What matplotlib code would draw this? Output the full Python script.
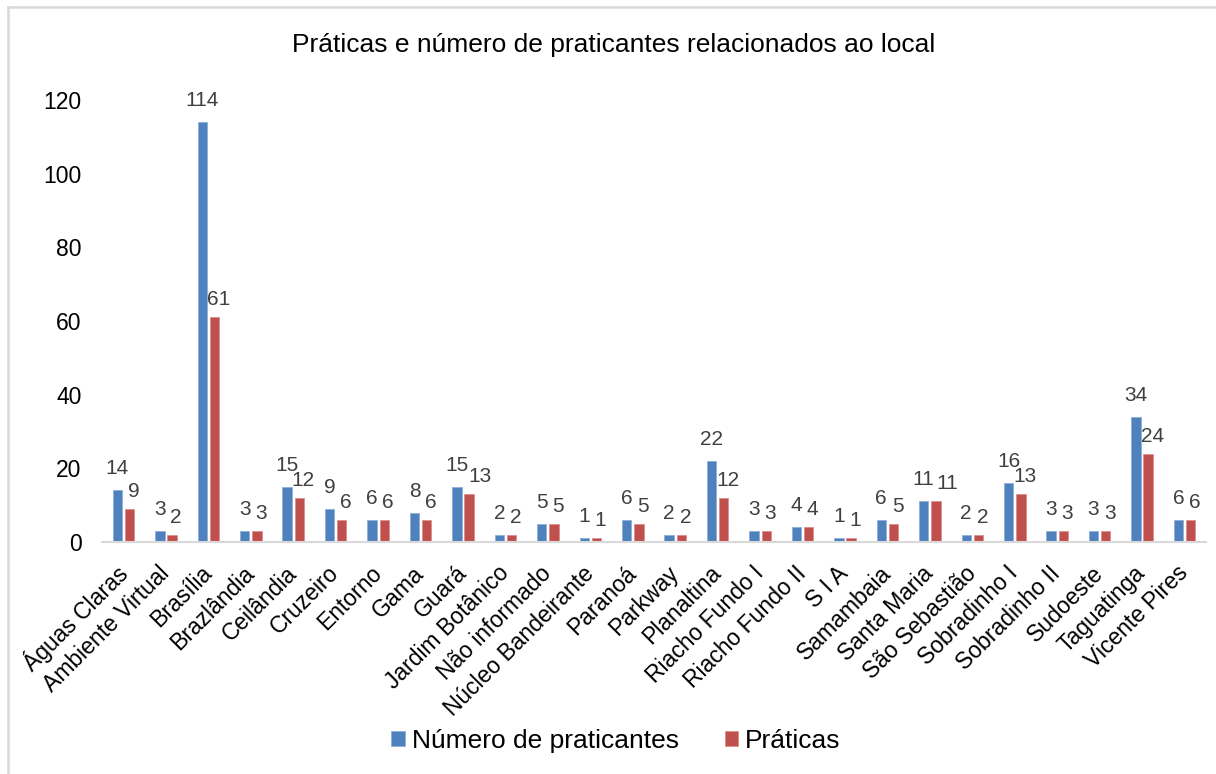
import matplotlib
matplotlib.use("Agg")
import matplotlib.pyplot as plt
from matplotlib.lines import Line2D
import numpy as np

plt.rcParams['font.family'] = ['Liberation Sans', 'DejaVu Sans']

categories = [
    "Águas Claras", "Ambiente Virtual", "Brasília", "Brazlândia", "Ceilândia",
    "Cruzeiro", "Entorno", "Gama", "Guará", "Jardim Botânico", "Não informado",
    "Núcleo Bandeirante", "Paranoá", "Parkway", "Planaltina", "Riacho Fundo I",
    "Riacho Fundo II", "S I A", "Samambaia", "Santa Maria", "São Sebastião",
    "Sobradinho I", "Sobradinho II", "Sudoeste", "Taguatinga", "Vicente Pires",
]
praticantes = [14, 3, 114, 3, 15, 9, 6, 8, 15, 2, 5, 1, 6, 2, 22, 3, 4, 1, 6, 11, 2, 16, 3, 3, 34, 6]
praticas = [9, 2, 61, 3, 12, 6, 6, 6, 13, 2, 5, 1, 5, 2, 12, 3, 4, 1, 5, 11, 2, 13, 3, 3, 24, 6]
series_names = ["Número de praticantes", "Práticas"]
yticks = [0, 20, 40, 60, 80, 100, 120]

blue = "#4F81BD"
red = "#C0504D"
label_color = "#404040"

W, H = 1216, 774
DPI = 100
fig = plt.figure(figsize=(W / DPI, H / DPI), dpi=DPI)
ax = fig.add_axes([102.3 / W, 1 - 542 / H, (1205.7 - 102.3) / W, (542 - 100) / H])

x = np.arange(len(categories))
bw = 0.22
off = 0.144
b1 = ax.bar(x - off, praticantes, bw, color=blue, edgecolor="#8DAEDA", linewidth=0.6,
            label=series_names[0])
b2 = ax.bar(x + off, praticas, bw, color=red, edgecolor="#DE8E8C", linewidth=0.6,
            label=series_names[1])

ax.set_xlim(-0.5, len(categories) - 0.5)
ax.set_ylim(0, 120)

# value labels: blue above its bar, red slightly right; red is nudged further
# right when its text would run into the neighbouring blue label
px2pt = 72.0 / DPI
label_fs = 15
digit_w = 11.5      # px per digit at this size
ink_h = 15.0        # px digit height
gap_blue, gap_red = 16.0, 12.0
desc_px = 4.0       # text box descent below the digits

for i in range(len(categories)):
    v1, v2 = praticantes[i], praticas[i]
    cx1, top1 = ax.transData.transform((x[i] - off, v1))
    cx2, top2 = ax.transData.transform((x[i] + off, v2))
    # display coords: y grows upward
    b_bot, b_top = top1 + gap_blue, top1 + gap_blue + ink_h
    r_bot, r_top = top2 + gap_red, top2 + gap_red + ink_h
    w1 = len(str(v1)) * digit_w
    w2 = len(str(v2)) * digit_w
    dx_red = 4.0
    if (r_top > b_bot) and (b_top > r_bot):
        left_needed = cx1 + w1 / 2 + 0.5
        if cx2 + dx_red - w2 / 2 < left_needed:
            dx_red = left_needed - (cx2 - w2 / 2)
    ax.annotate(str(v1), (x[i] - off, v1), xytext=(0, (gap_blue - desc_px) * px2pt),
                textcoords="offset points", ha="center", va="bottom",
                fontsize=label_fs, color=label_color)
    ax.annotate(str(v2), (x[i] + off, v2),
                xytext=(dx_red * px2pt, (gap_red - desc_px) * px2pt),
                textcoords="offset points", ha="center", va="bottom",
                fontsize=label_fs, color=label_color)

ax.set_yticks(yticks)
ax.set_yticklabels([str(t) for t in yticks], fontsize=16.5, color="#000000")
ax.tick_params(axis="y", length=0, pad=15)
ax.set_xticks(x)
ax.set_xticklabels(categories, rotation=45, ha="right", va="center",
                   rotation_mode="anchor", fontsize=16.5, color="#000000")
ax.tick_params(axis="x", length=0, pad=20)

for side in ("top", "right", "left"):
    ax.spines[side].set_visible(False)
ax.spines["bottom"].set_color("#D9D9D9")
ax.spines["bottom"].set_linewidth(1.5)

fig.text(614 / W, 1 - 45 / H, "Práticas e número de praticantes relacionados ao local",
         ha="center", va="center", fontsize=19, color="#000000")

fig.legend(handles=[b1, b2], labels=series_names, loc="center",
           bbox_to_anchor=(616 / W, 1 - 741 / H), ncol=2, frameon=False,
           fontsize=19, handlelength=0.5, handleheight=0.5, handletextpad=0.27,
           columnspacing=1.75)

# light chart-area frame
fig.add_artist(Line2D([8 / W, 1.0], [1 - 7 / H, 1 - 7 / H], color="#D9D9D9", lw=1.8,
                      transform=fig.transFigure))
fig.add_artist(Line2D([8 / W, 8 / W], [0, 1 - 7 / H], color="#D9D9D9", lw=1.8,
                      transform=fig.transFigure))

fig.savefig("out.png", dpi=DPI, facecolor="white")
